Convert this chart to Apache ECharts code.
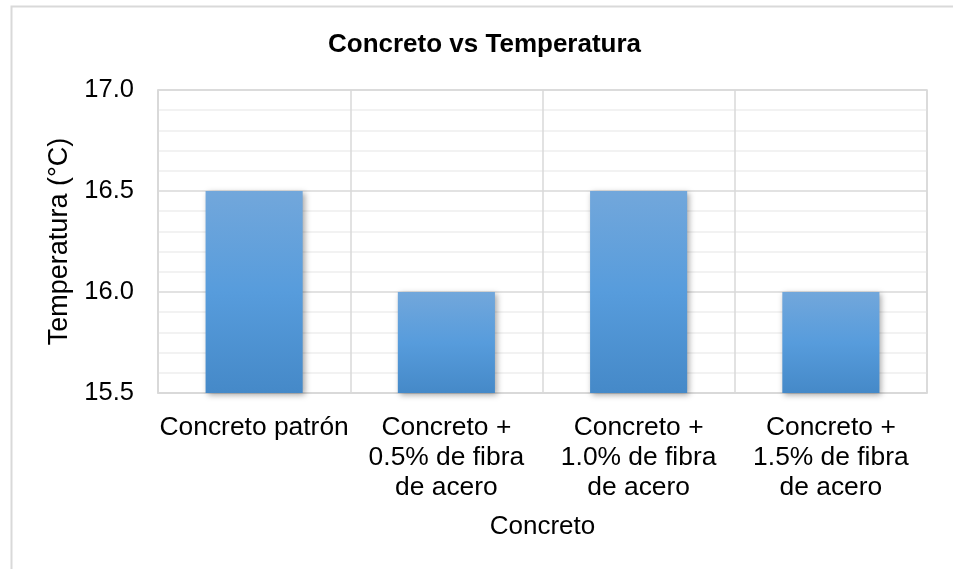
<!DOCTYPE html>
<html>
<head>
<meta charset="utf-8">
<script src="https://cdn.jsdelivr.net/npm/echarts@6/dist/echarts.min.js"></script>
<style>
  html, body { margin: 0; padding: 0; background: #ffffff; }
  #chart { width: 953px; height: 569px; }
</style>
</head>
<body>
<div id="chart"></div>
<script>
// Categories (wrapped as they appear under each bar)
const categories = [
  'Concreto patrón',
  'Concreto +\n0.5% de fibra\nde acero',
  'Concreto +\n1.0% de fibra\nde acero',
  'Concreto +\n1.5% de fibra\nde acero'
];
// Temperature for each mix (°C)
const temperatures = [16.5, 16.0, 16.5, 16.0];
// Value axis range and step
const yMin = 15.5;
const yMax = 17.0;
const yStep = 0.5;

const FONT = '"Liberation Sans", Arial, sans-serif';
const GRID_MAJOR = '#d9d9d9';
const GRID_MINOR = '#eeeeee';

const chart = echarts.init(document.getElementById('chart'), null, { renderer: 'canvas' });

chart.setOption({
  backgroundColor: '#ffffff',
  animation: false,
  title: {
    text: 'Concreto vs Temperatura',
    left: 328,
    top: 32,
    padding: 0,
    textStyle: { fontFamily: FONT, fontSize: 26, fontWeight: 'bold', color: '#000000' }
  },
  graphic: [{
    // chart-area frame
    type: 'rect',
    silent: true,
    shape: { x: 11.5, y: 6.5, width: 1000, height: 1000 },
    style: { fill: 'none', stroke: GRID_MAJOR, lineWidth: 2 },
    z: -1
  }],
  grid: {
    left: 158, right: 26, top: 90, bottom: 176,
    show: true, borderColor: GRID_MAJOR, borderWidth: 1.5, backgroundColor: 'transparent'
  },
  xAxis: {
    type: 'category',
    data: categories,
    name: 'Concreto',
    nameLocation: 'middle',
    nameGap: 121,
    nameTextStyle: { fontFamily: FONT, fontSize: 26, color: '#000000' },
    axisLine: { show: true, lineStyle: { color: GRID_MAJOR, width: 1.5 } },
    axisTick: { show: false },
    axisLabel: {
      interval: 0,
      margin: 20,
      fontFamily: FONT, fontSize: 26.4, lineHeight: 30, color: '#000000', align: 'center'
    },
    splitLine: { show: true, interval: 0, lineStyle: { color: GRID_MAJOR, width: 1.5 } }
  },
  yAxis: {
    type: 'value',
    min: yMin, max: yMax, interval: yStep,
    name: 'Temperatura (°C)',
    nameLocation: 'middle',
    nameGap: 81,
    nameTextStyle: { fontFamily: FONT, fontSize: 27, color: '#000000' },
    axisLine: { show: true, lineStyle: { color: GRID_MAJOR, width: 1.5 } },
    axisTick: { show: false },
    axisLabel: {
      margin: 24,
      fontFamily: FONT, fontSize: 25.5, color: '#000000',
      formatter: v => v.toFixed(1)
    },
    splitLine: { show: true, lineStyle: { color: GRID_MAJOR, width: 1.5 } },
    minorTick: { show: false, splitNumber: 5 },
    minorSplitLine: { show: true, lineStyle: { color: GRID_MINOR, width: 1.5 } }
  },
  series: [{
    type: 'bar',
    data: temperatures,
    barCategoryGap: '49.5%',
    itemStyle: {
      color: new echarts.graphic.LinearGradient(0, 0, 0, 1, [
        { offset: 0, color: '#72a7db' },
        { offset: 0.5, color: '#579cdc' },
        { offset: 1, color: '#4589c8' }
      ]),
      shadowColor: 'rgba(0, 0, 0, 0.35)',
      shadowBlur: 6,
      shadowOffsetX: 2,
      shadowOffsetY: 2
    }
  }]
});
</script>
</body>
</html>
